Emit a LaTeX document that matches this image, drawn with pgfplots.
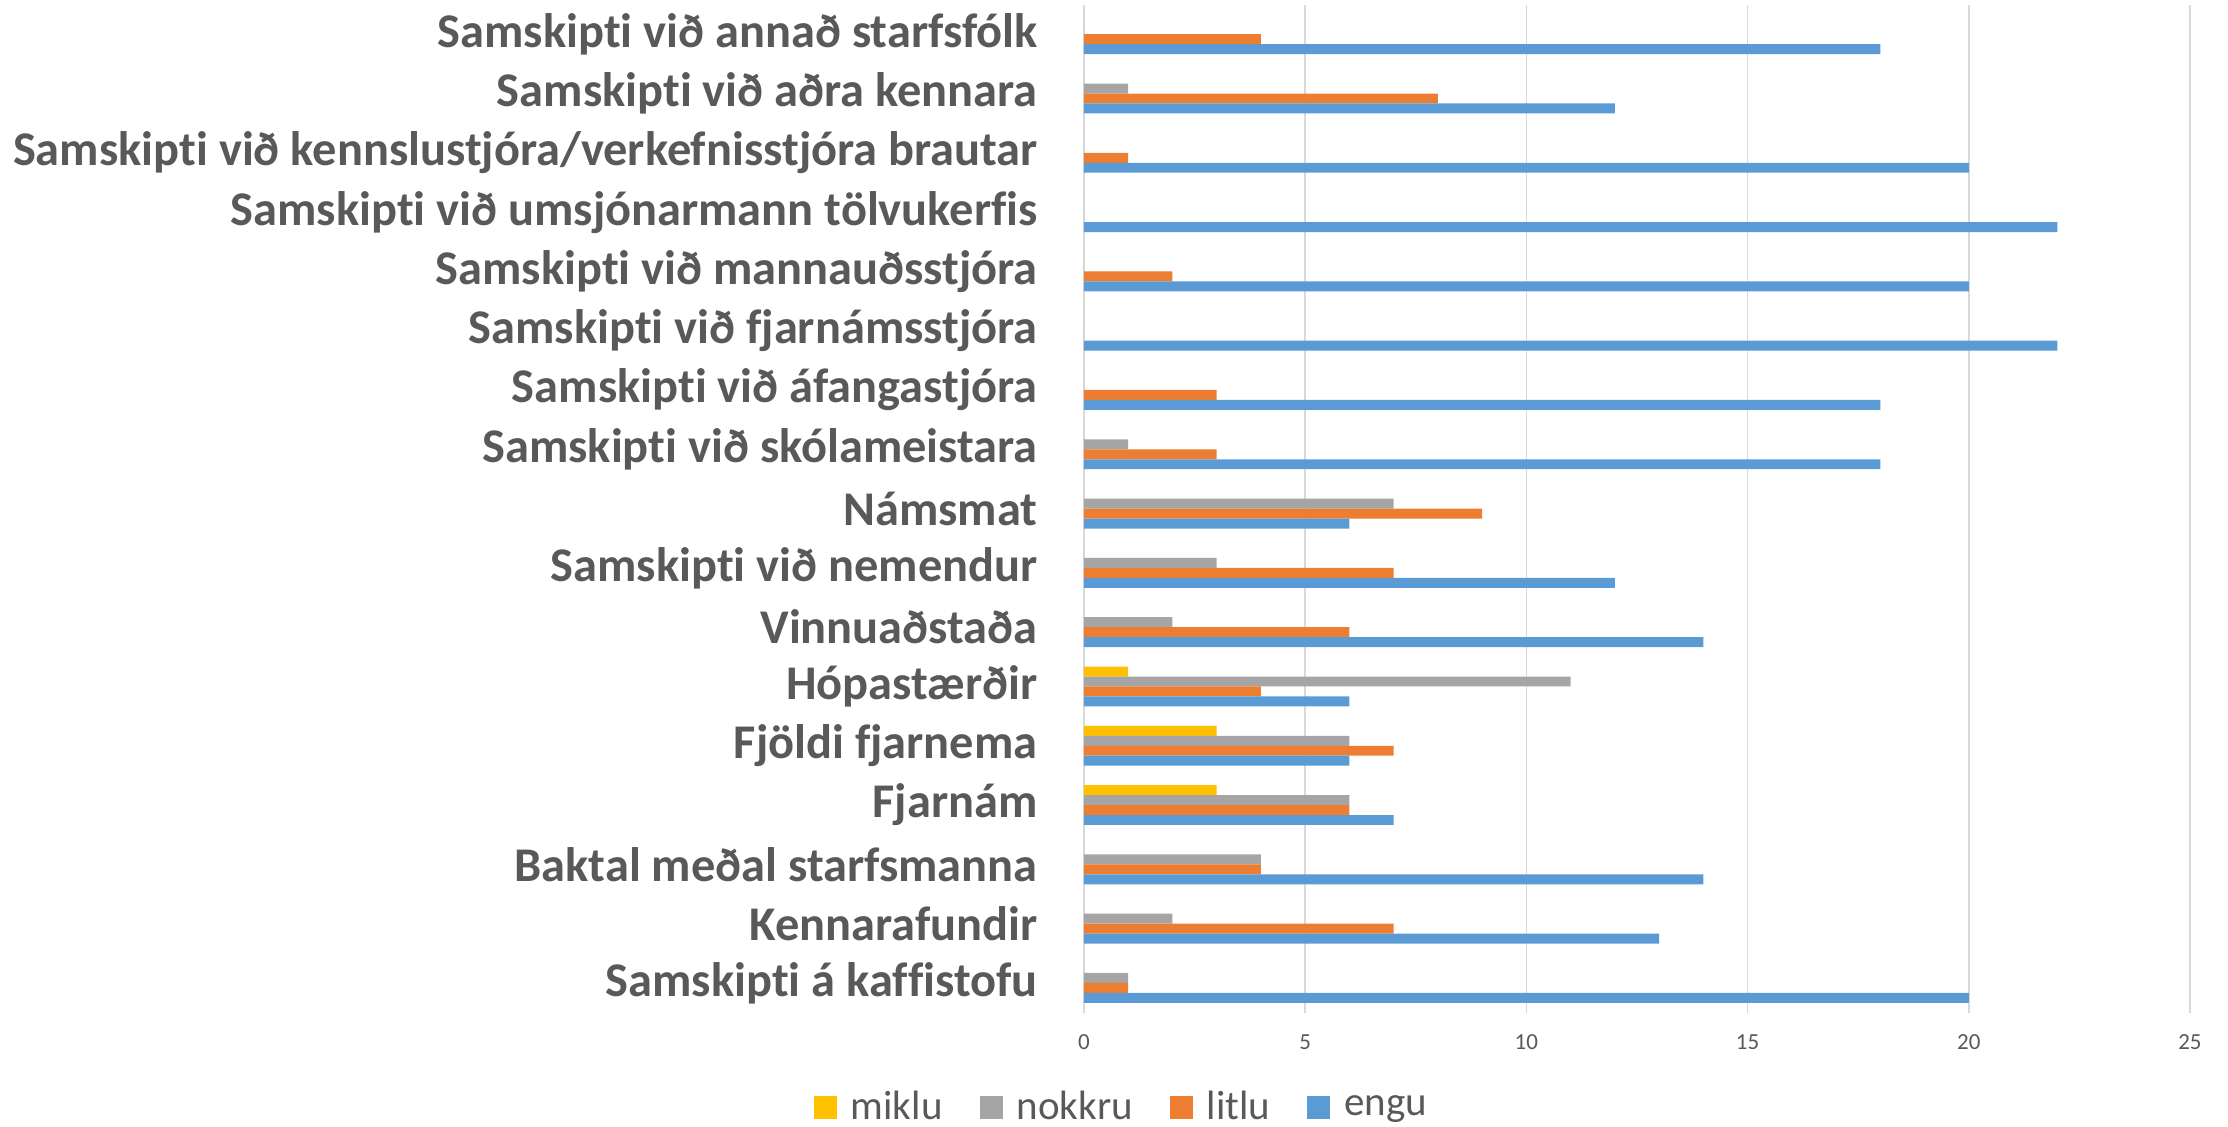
\documentclass[border=0pt]{standalone}
\usepackage{pgfplots}
\pgfplotsset{compat=1.18}
\usepackage{pgfplotstable}
\usepackage{fontspec}
\setmainfont{Carlito}[Ligatures={NoCommon}]
\definecolor{cblue}{HTML}{5B9BD5}
\definecolor{corange}{HTML}{ED7D31}
\definecolor{cgray}{HTML}{A5A5A5}
\definecolor{cyellow}{HTML}{FFC000}
\definecolor{ctext}{HTML}{595959}
\definecolor{cgrid}{HTML}{D9D9D9}
\pgfplotstableread{
y engu litlu nokkru miklu
0 20 1 1 0
1 13 7 2 0
2 14 4 4 0
3 7 6 6 3
4 6 7 6 3
5 6 4 11 1
6 14 6 2 0
7 12 7 3 0
8 6 9 7 0
9 18 3 1 0
10 18 3 0 0
11 22 0 0 0
12 20 2 0 0
13 22 0 0 0
14 20 1 0 0
15 12 8 1 0
16 18 4 0 0
}\datatable
\begin{document}
\begin{tikzpicture}
\path[use as bounding box] (-542pt,-57.2pt) rectangle (572pt,506.3pt);
\begin{axis}[
  at={(0,0)}, anchor=south west,
  scale only axis,
  width=553pt, height=504pt,
  xbar, bar width=0.168,
  xmin=0, xmax=25,
  ymin=-0.5, ymax=16.5,
  xtick={0,5,10,15,20,25},
  ytick={0,...,16},
  yticklabels={
    Samskipti á kaffistofu,
    Kennarafundir,
    Baktal meðal starfsmanna,
    Fjarnám,
    Fjöldi fjarnema,
    Hópastærðir,
    Vinnuaðstaða,
    Samskipti við nemendur,
    Námsmat,
    Samskipti við skólameistara,
    Samskipti við áfangastjóra,
    Samskipti við fjarnámsstjóra,
    Samskipti við mannauðsstjóra,
    Samskipti við umsjónarmann tölvukerfis,
    Samskipti við kennslustjóra/verkefnisstjóra brautar,
    Samskipti við aðra kennara,
    Samskipti við annað starfsfólk},
  axis line style={draw=none},
  major tick length=0pt,
  xmajorgrids=true,
  ymajorgrids=false,
  major grid style={cgrid, line width=0.8pt},
  /pgf/number format/assume math mode=true,
  xticklabel style={font=\fontsize{11.5}{13}\selectfont, text=ctext, anchor=center, inner sep=0pt, yshift=-15pt},
  yticklabel style={font=\fontsize{24.2}{27}\selectfont\bfseries, text=ctext, anchor=east, inner sep=0pt, xshift=-23pt},
  legend style={at={(axis description cs:0.033,-0.0937)}, anchor=center,
    legend columns=4, draw=none, fill=none,
    font=\fontsize{20.5}{23}\selectfont, text=ctext,
    nodes={inner sep=0pt},
    /tikz/every odd column/.append style={column sep=7pt},
    /tikz/every even column/.append style={column sep=18.5pt}},
  legend image code/.code={\fill[#1] (0pt,-5.75pt) rectangle (11.5pt,5.75pt);},
]
\addplot[fill=cyellow, draw=none, bar shift=0.252] table[x=miklu, y=y] {\datatable};
\addplot[fill=cgray, draw=none, bar shift=0.084] table[x=nokkru, y=y] {\datatable};
\addplot[fill=corange, draw=none, bar shift=-0.084] table[x=litlu, y=y] {\datatable};
\addplot[fill=cblue, draw=none, bar shift=-0.252] table[x=engu, y=y] {\datatable};
\legend{miklu, nokkru, litlu, engu}
\end{axis}
\end{tikzpicture}
\end{document}
